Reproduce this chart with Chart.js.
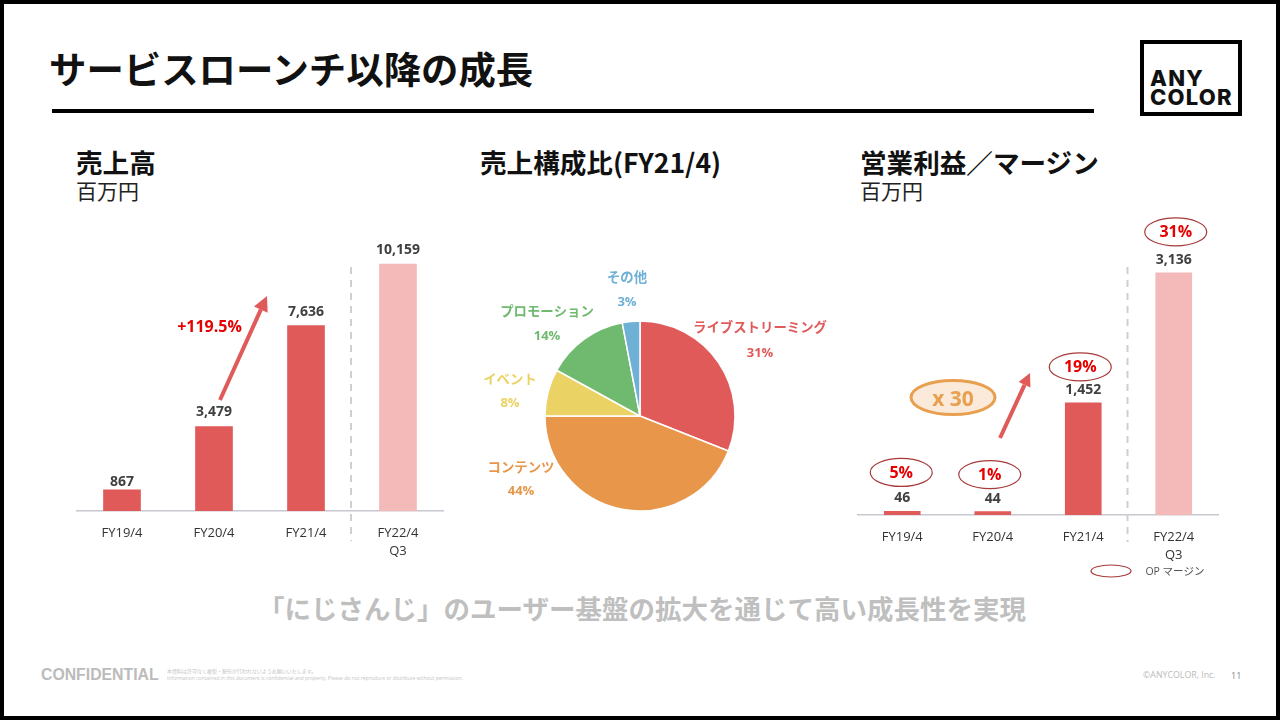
<!DOCTYPE html>
<html lang="ja">
<head>
<meta charset="utf-8">
<title>サービスローンチ以降の成長</title>
<script src="https://cdn.jsdelivr.net/npm/chart.js@4/dist/chart.umd.min.js"></script>
<style>
  html, body { margin: 0; padding: 0; background: #fff; }
  body { width: 1280px; height: 720px; position: relative; overflow: hidden;
         font-family: 'Open Sans', 'Noto Sans CJK JP', sans-serif; color: #111; }
  #frame { position: absolute; left: 0; top: 0; width: 1272px; height: 712px; border: 4px solid #000; }
  canvas { position: absolute; }
  .t { position: absolute; white-space: nowrap; line-height: 1; }
  .jp { font-family: 'Noto Sans CJK JP', sans-serif; }
  #title { left: 49px; top: 50px; font-size: 37.4px; font-weight: 700; color: #111; }
  #rule { position: absolute; left: 52px; top: 109px; width: 1042px; height: 4px; background: #000; }
  #logo { position: absolute; left: 1140px; top: 40px; width: 94px; height: 68px; border: 4px solid #000; }
  .logoText { font-family: 'Inter', sans-serif; font-weight: 800; font-size: 22px; letter-spacing: 1.2px; left: 1150px; }
  .head { font-size: 26.6px; font-weight: 700; top: 149px; }
  .unit { font-size: 21px; top: 180px; color: #222; }
  #tagline { left: 258px; top: 595px; font-size: 26.5px; font-weight: 700; color: #bfbfbf; }
  #conf { left: 41px; top: 667px; font-family: 'Liberation Sans', sans-serif; font-weight: 700; font-size: 15.8px; color: #bbb; }
  .fine { left: 167px; font-size: 5px; color: #c4c4c4; }
  #copy { left: 1143px; top: 671px; font-size: 8.8px; color: #bbb; }
  #page { left: 1231px; top: 671px; font-size: 9px; color: #888; }
</style>
</head>
<body>
<div id="frame"></div>
<div class="t jp" id="title">サービスローンチ以降の成長</div>
<div id="rule"></div>
<div id="logo"></div>
<div class="t logoText" style="top:67px">ANY</div>
<div class="t logoText" style="top:86px">COLOR</div>

<div class="t jp head" style="left:76px">売上高</div>
<div class="t jp unit" style="left:76px">百万円</div>
<div class="t jp head" style="left:480px">売上構成比(FY21/4)</div>
<div class="t jp head" style="left:860px">営業利益／マージン</div>
<div class="t jp unit" style="left:860px">百万円</div>

<canvas id="salesChart" style="left:76px;top:200px"></canvas>
<canvas id="mixChart" style="left:440px;top:256px"></canvas>
<canvas id="profitChart" style="left:857px;top:200px"></canvas>

<div class="t jp" id="tagline">「にじさんじ」のユーザー基盤の拡大を通じて高い成長性を実現</div>
<div class="t" id="conf">CONFIDENTIAL</div>
<div class="t jp fine" style="top:668px">本資料は許可なく複製・配布が行われないようお願いいたします。</div>
<div class="t fine" style="top:676px">Information contained in this document is confidential and property. Please do not reproduce or distribute without permission.</div>
<div class="t" id="copy">©ANYCOLOR, Inc.</div>
<div class="t" id="page">11</div>

<script>
// ── Data ──────────────────────────────────────────────────────────
const years = ['FY19/4', 'FY20/4', 'FY21/4', ['FY22/4', 'Q3']];
const salesValues = [867, 3479, 7636, 10159];
const profitValues = [46, 44, 1452, 3136];
const marginValues = ['5%', '1%', '19%', '31%'];
const mixLabels = ['ライブストリーミング', 'コンテンツ', 'イベント', 'プロモーション', 'その他'];
const mixValues = [31, 44, 8, 14, 3];

// ── Theme ─────────────────────────────────────────────────────────
const RED = '#e05a5a';
const PINK = '#f4b9b9';
const BAR_COLORS = [RED, RED, RED, PINK];
const MIX_COLORS = ['#e05a5a', '#e8964a', '#ebd264', '#6fba6f', '#6eb0d6'];
const VALUE_COLOR = '#404040';
const FONT = "'Open Sans', 'Noto Sans CJK JP', sans-serif";
const JP_FONT = "'Noto Sans CJK JP', sans-serif";

Chart.defaults.animation = false;
Chart.defaults.responsive = false;
Chart.defaults.devicePixelRatio = 1;
Chart.defaults.plugins.legend.display = false;
Chart.defaults.plugins.tooltip.enabled = false;

function size(id, w, h) {
  const c = document.getElementById(id);
  c.width = w;
  c.height = h;
  return c;
}

function label(ctx, text, x, y, font, color) {
  ctx.font = font;
  ctx.fillStyle = color;
  ctx.textAlign = 'center';
  ctx.textBaseline = 'middle';
  ctx.fillText(text, x, y);
}

function arrow(ctx, x0, y0, x1, y1, width, headLen, headWidth) {
  const a = Math.atan2(y1 - y0, x1 - x0);
  const bx = x1 - headLen * Math.cos(a);
  const by = y1 - headLen * Math.sin(a);
  ctx.strokeStyle = RED;
  ctx.fillStyle = RED;
  ctx.lineWidth = width;
  ctx.beginPath();
  ctx.moveTo(x0, y0);
  ctx.lineTo(bx, by);
  ctx.stroke();
  ctx.beginPath();
  ctx.moveTo(x1, y1);
  ctx.lineTo(bx - Math.sin(a) * headWidth / 2, by + Math.cos(a) * headWidth / 2);
  ctx.lineTo(bx + Math.sin(a) * headWidth / 2, by - Math.cos(a) * headWidth / 2);
  ctx.closePath();
  ctx.fill();
}

function ellipse(ctx, x, y, rx, ry, stroke, lineWidth, fill) {
  ctx.beginPath();
  ctx.ellipse(x, y, rx, ry, 0, 0, Math.PI * 2);
  if (fill) { ctx.fillStyle = fill; ctx.fill(); }
  ctx.strokeStyle = stroke;
  ctx.lineWidth = lineWidth;
  ctx.stroke();
}

// Dashed divider before the partial year, value labels over the bars
const barExtras = {
  id: 'barExtras',
  afterDatasetsDraw(chart, args, opts) {
    const { ctx } = chart;
    const x = chart.scales.x;
    const meta = chart.getDatasetMeta(0);
    ctx.save();
    ctx.strokeStyle = '#cfcfcf';
    ctx.lineWidth = 2;
    ctx.setLineDash([7, 6]);
    ctx.beginPath();
    ctx.moveTo(x.getPixelForValue(2.5) - 1, opts.dashTop);
    ctx.lineTo(x.getPixelForValue(2.5) - 1, opts.dashBottom);
    ctx.stroke();
    ctx.setLineDash([]);
    meta.data.forEach((bar, i) => {
      const text = chart.data.datasets[0].data[i].toLocaleString('en-US');
      label(ctx, text, bar.x, bar.y - opts.labelGap[i], `bold 14px ${FONT}`, VALUE_COLOR);
    });
    if (opts.draw) opts.draw(chart, ctx, meta);
    ctx.restore();
  }
};

function barChart(canvas, values, yMax, barWidth, axisHeight, extras) {
  return new Chart(canvas, {
    type: 'bar',
    data: {
      labels: years,
      datasets: [{ data: values, backgroundColor: BAR_COLORS, barThickness: barWidth }]
    },
    options: {
      layout: { padding: 0 },
      scales: {
        x: {
          grid: { display: false },
          border: { color: '#c8c8d0', width: 1.5 },
          afterFit(scale) { scale.height = axisHeight; },
          ticks: {
            color: '#333',
            padding: 5,
            maxRotation: 0,
            autoSkip: false,
            font: { family: FONT, size: 13, lineHeight: 1.385 }
          }
        },
        y: { display: false, min: 0, max: yMax }
      },
      plugins: { barExtras: extras }
    },
    plugins: [barExtras]
  });
}

// ── 売上高 ─────────────────────────────────────────────────────────
barChart(size('salesChart', 368, 360), salesValues, 12800, 37, 49, {
  dashTop: 67,
  dashBottom: 341,
  labelGap: [8, 14, 13, 14],
  draw(chart, ctx) {
    arrow(ctx, 144, 200, 191, 96, 4, 15, 15);
    label(ctx, '+119.5%', 133.5, 127, `bold 16px ${FONT}`, '#e60000');
  }
});

// ── 売上構成比 ─────────────────────────────────────────────────────
const MIX_TEXT_POS = [
  [120, -89, -63],
  [-119, 51, 75],
  [-130, -37, -13],
  [-93, -105, -80],
  [-13, -139, -114]
];

const mixText = {
  id: 'mixText',
  afterDatasetsDraw(chart) {
    const { ctx } = chart;
    const arc = chart.getDatasetMeta(0).data[0];
    ctx.save();
    mixLabels.forEach((name, i) => {
      const [dx, nameY, pctY] = MIX_TEXT_POS[i];
      label(ctx, name, arc.x + dx, arc.y + nameY, `bold 13.4px ${JP_FONT}`, MIX_COLORS[i]);
      label(ctx, mixValues[i] + '%', arc.x + dx, arc.y + pctY, `bold 13px ${FONT}`, MIX_COLORS[i]);
    });
    ctx.restore();
  }
};

new Chart(size('mixChart', 400, 320), {
  type: 'pie',
  data: {
    labels: mixLabels,
    datasets: [{
      data: mixValues,
      backgroundColor: MIX_COLORS,
      borderColor: '#fff',
      borderWidth: 1.5
    }]
  },
  options: { radius: 95, layout: { padding: 0 } },
  plugins: [mixText]
});

// ── 営業利益／マージン ──────────────────────────────────────────────
const MARGIN_DX = [-1, -3, -3, 2];
const MARGIN_DY = [39, 37, 36, 41];

barChart(size('profitChart', 362, 385), profitValues, 4080, 36, 70, {
  dashTop: 67,
  dashBottom: 342,
  labelGap: [13, 13, 13, 13],
  draw(chart, ctx, meta) {
    meta.data.forEach((bar, i) => {
      const x = bar.x + MARGIN_DX[i];
      const y = bar.y - MARGIN_DY[i];
      ellipse(ctx, x, y, 31, 14, '#a83a3a', 1.2);
      label(ctx, marginValues[i], x, y + 1, `bold 16px ${FONT}`, '#e60000');
    });
    arrow(ctx, 143, 238, 173, 173, 4, 13, 13);
    ellipse(ctx, 96, 197.5, 42, 17, '#e8a050', 3, '#fbe9d9');
    label(ctx, 'x 30', 96, 200, `bold 21px ${FONT}`, '#e8a050');
    ellipse(ctx, 254, 371, 20, 6, '#a83a3a', 1.2);
    label(ctx, 'OP マージン', 318, 372, `10.5px ${FONT}`, '#555');
  }
});
</script>
</body>
</html>
